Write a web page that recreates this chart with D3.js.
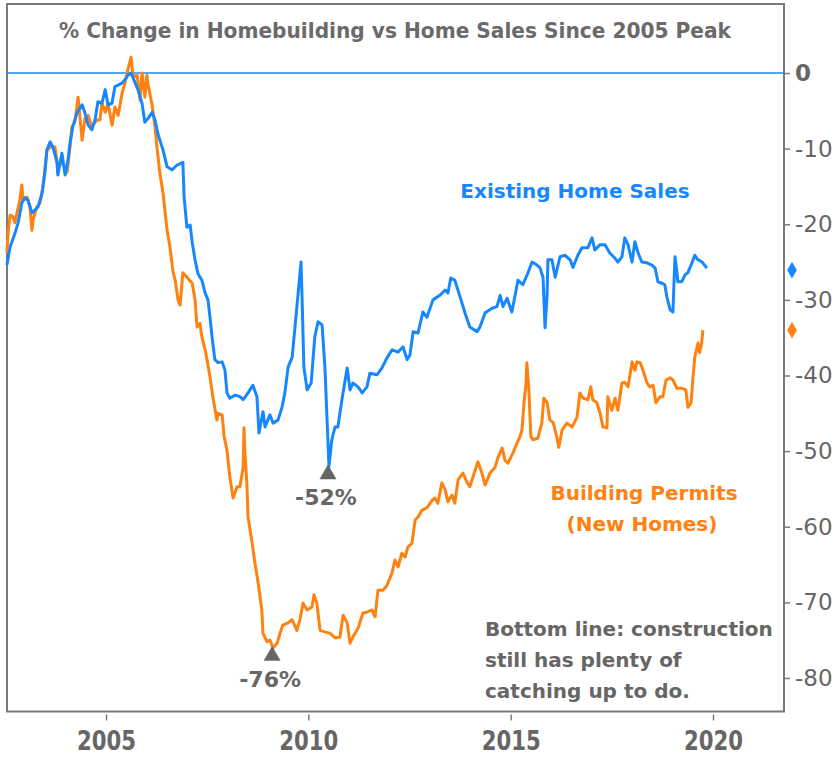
<!DOCTYPE html>
<html><head><meta charset="utf-8">
<script src="https://cdn.jsdelivr.net/npm/d3@7"></script>
<style>body{margin:0;background:#fff}svg{display:block}</style>
</head><body>
<svg id="c" width="840" height="757"></svg>
<script>
const titleText = "% Change in Homebuilding vs Home Sales Since 2005 Peak";
const xTicks = [2005, 2010, 2015, 2020];
const yTicks = [0, -10, -20, -30, -40, -50, -60, -70, -80];

const existingHomeSales = [[2002.55,-25.4],[2002.63,-23.0],[2002.75,-21.2],[2002.83,-19.8],[2002.92,-17.2],[2003.00,-16.5],[2003.07,-16.8],[2003.17,-18.5],[2003.25,-18.1],[2003.32,-17.7],[2003.42,-15.9],[2003.49,-13.2],[2003.54,-10.2],[2003.62,-9.1],[2003.69,-9.8],[2003.79,-11.9],[2003.81,-13.5],[2003.91,-10.6],[2003.99,-13.5],[2004.06,-11.5],[2004.11,-9.3],[2004.18,-7.1],[2004.28,-5.3],[2004.41,-4.2],[2004.48,-5.3],[2004.56,-6.9],[2004.65,-7.5],[2004.73,-6.2],[2004.80,-3.8],[2004.90,-4.0],[2004.98,-2.2],[2005.05,-4.2],[2005.15,-4.0],[2005.22,-1.8],[2005.30,-1.6],[2005.40,-1.3],[2005.47,-0.9],[2005.54,-0.3],[2005.62,0],[2005.72,-1.3],[2005.79,-2.2],[2005.89,-4.0],[2005.96,-6.5],[2006.04,-6.0],[2006.14,-5.2],[2006.21,-6.2],[2006.29,-8.2],[2006.41,-10.2],[2006.51,-12.4],[2006.63,-12.8],[2006.75,-12.2],[2006.90,-11.8],[2006.93,-16.4],[2007.00,-20.4],[2007.08,-20.1],[2007.13,-22.4],[2007.20,-24.7],[2007.27,-26.5],[2007.37,-27.4],[2007.45,-29.1],[2007.52,-30.0],[2007.57,-32.3],[2007.62,-34.9],[2007.69,-37.9],[2007.77,-38.3],[2007.87,-38.2],[2007.94,-39.3],[2007.99,-42.3],[2008.06,-43.0],[2008.19,-42.6],[2008.31,-42.8],[2008.39,-43.2],[2008.51,-42.3],[2008.63,-41.3],[2008.73,-42.8],[2008.78,-47.6],[2008.88,-44.8],[2008.93,-46.8],[2009.05,-45.2],[2009.13,-46.3],[2009.25,-45.9],[2009.35,-44.2],[2009.42,-42.3],[2009.50,-38.9],[2009.60,-37.6],[2009.67,-33.6],[2009.74,-29.6],[2009.82,-25.0],[2009.84,-28.7],[2009.89,-38.9],[2009.97,-41.9],[2010.07,-41.0],[2010.16,-34.9],[2010.24,-32.9],[2010.34,-33.3],[2010.41,-38.9],[2010.46,-45.5],[2010.51,-52.0],[2010.58,-48.5],[2010.66,-46.8],[2010.73,-46.8],[2010.83,-43.2],[2010.91,-40.6],[2010.96,-39.0],[2011.03,-41.9],[2011.10,-41.0],[2011.23,-41.5],[2011.33,-42.3],[2011.45,-41.5],[2011.52,-39.7],[2011.70,-39.9],[2011.82,-39.0],[2011.94,-37.7],[2012.07,-36.6],[2012.22,-36.9],[2012.34,-36.2],[2012.44,-37.9],[2012.51,-37.3],[2012.59,-34.2],[2012.71,-34.4],[2012.83,-31.6],[2012.93,-32.3],[2013.08,-30.0],[2013.25,-29.4],[2013.38,-28.7],[2013.45,-29.1],[2013.52,-27.1],[2013.62,-27.4],[2013.75,-29.6],[2013.87,-31.7],[2013.99,-33.6],[2014.17,-34.2],[2014.24,-33.6],[2014.37,-31.7],[2014.54,-31.1],[2014.66,-30.9],[2014.74,-29.4],[2014.81,-30.9],[2014.91,-29.8],[2015.03,-31.6],[2015.11,-29.4],[2015.18,-27.4],[2015.30,-28.0],[2015.43,-26.4],[2015.53,-25.0],[2015.65,-25.4],[2015.72,-25.7],[2015.80,-27.0],[2015.85,-33.7],[2015.90,-29.4],[2015.92,-24.7],[2016.02,-24.7],[2016.10,-27.0],[2016.22,-24.3],[2016.34,-24.1],[2016.47,-24.7],[2016.54,-25.7],[2016.66,-24.1],[2016.76,-23.1],[2016.91,-23.1],[2017.01,-21.8],[2017.08,-23.4],[2017.21,-22.7],[2017.33,-22.7],[2017.45,-23.8],[2017.58,-24.5],[2017.65,-25.0],[2017.75,-24.3],[2017.82,-21.8],[2017.90,-22.7],[2018.00,-25.0],[2018.07,-22.3],[2018.15,-23.8],[2018.24,-25.0],[2018.37,-25.1],[2018.49,-25.4],[2018.57,-25.8],[2018.64,-27.6],[2018.74,-27.8],[2018.81,-28.0],[2018.86,-29.6],[2018.94,-31.3],[2019.01,-31.6],[2019.06,-24.3],[2019.11,-26.4],[2019.13,-27.6],[2019.23,-27.6],[2019.31,-26.7],[2019.38,-26.4],[2019.48,-25.1],[2019.55,-24.1],[2019.63,-24.7],[2019.73,-25.0],[2019.85,-25.8]];

const buildingPermits = [[2002.55,-23.8],[2002.58,-21.2],[2002.63,-18.8],[2002.70,-19.0],[2002.75,-19.8],[2002.80,-18.5],[2002.87,-16.8],[2002.92,-14.8],[2002.95,-16.8],[2003.05,-16.4],[2003.12,-17.7],[2003.17,-20.8],[2003.20,-19.4],[2003.29,-17.7],[2003.37,-17.2],[2003.44,-15.1],[2003.54,-10.2],[2003.62,-9.8],[2003.74,-9.8],[2003.81,-12.4],[2003.91,-11.8],[2004.04,-13.1],[2004.11,-9.8],[2004.16,-7.1],[2004.23,-6.5],[2004.31,-3.2],[2004.41,-8.9],[2004.48,-6.0],[2004.56,-5.6],[2004.65,-7.1],[2004.78,-6.2],[2004.85,-6.2],[2004.90,-4.0],[2004.98,-5.2],[2005.05,-4.0],[2005.15,-6.9],[2005.22,-4.5],[2005.30,-5.6],[2005.40,-2.6],[2005.47,-1.3],[2005.54,0.4],[2005.62,2.1],[2005.67,-0.5],[2005.77,-0.3],[2005.84,-3.6],[2005.89,0],[2005.96,-3.2],[2006.01,-0.3],[2006.04,-1.6],[2006.14,-4.2],[2006.21,-7.1],[2006.26,-9.8],[2006.33,-13.2],[2006.41,-15.9],[2006.51,-20.8],[2006.58,-23.0],[2006.66,-26.4],[2006.71,-27.4],[2006.78,-30.0],[2006.83,-30.7],[2006.90,-26.4],[2007.00,-27.0],[2007.13,-27.8],[2007.20,-30.0],[2007.25,-33.6],[2007.32,-33.1],[2007.37,-34.9],[2007.45,-36.6],[2007.50,-38.0],[2007.57,-40.2],[2007.64,-42.8],[2007.74,-45.9],[2007.77,-45.0],[2007.87,-45.2],[2007.92,-48.1],[2007.99,-49.9],[2008.06,-53.4],[2008.14,-56.2],[2008.24,-54.7],[2008.31,-54.7],[2008.39,-52.1],[2008.41,-46.9],[2008.43,-49.9],[2008.48,-54.2],[2008.51,-58.7],[2008.61,-62.1],[2008.68,-64.8],[2008.76,-67.4],[2008.85,-71.0],[2008.88,-74.1],[2008.98,-75.2],[2009.05,-75.0],[2009.13,-76.0],[2009.23,-75.4],[2009.30,-74.1],[2009.37,-73.0],[2009.50,-72.7],[2009.60,-72.3],[2009.72,-73.7],[2009.79,-72.3],[2009.87,-70.1],[2009.97,-71.0],[2010.09,-70.6],[2010.14,-69.0],[2010.21,-70.1],[2010.29,-73.7],[2010.41,-73.9],[2010.54,-74.1],[2010.66,-74.7],[2010.78,-74.6],[2010.86,-71.7],[2010.96,-72.7],[2011.03,-75.4],[2011.10,-74.6],[2011.23,-73.4],[2011.35,-71.4],[2011.45,-71.3],[2011.57,-71.0],[2011.65,-71.9],[2011.72,-68.4],[2011.84,-68.4],[2011.94,-67.8],[2012.07,-66.1],[2012.14,-64.4],[2012.22,-65.3],[2012.31,-63.5],[2012.39,-64.0],[2012.46,-62.7],[2012.56,-62.2],[2012.64,-59.1],[2012.71,-58.7],[2012.81,-57.8],[2012.93,-57.5],[2013.06,-56.5],[2013.13,-56.2],[2013.20,-56.9],[2013.30,-54.2],[2013.38,-55.1],[2013.45,-56.7],[2013.55,-55.8],[2013.62,-56.9],[2013.70,-53.8],[2013.82,-52.9],[2013.92,-54.1],[2013.99,-54.7],[2014.07,-53.4],[2014.19,-51.4],[2014.29,-52.9],[2014.37,-54.5],[2014.49,-52.9],[2014.61,-52.2],[2014.69,-50.8],[2014.79,-49.6],[2014.86,-51.2],[2014.93,-51.6],[2015.06,-50.2],[2015.16,-48.9],[2015.23,-48.1],[2015.28,-47.2],[2015.33,-43.6],[2015.38,-41.0],[2015.40,-38.3],[2015.45,-41.9],[2015.50,-48.1],[2015.55,-48.5],[2015.67,-48.3],[2015.77,-46.3],[2015.82,-43.0],[2015.90,-43.6],[2015.97,-45.9],[2016.05,-46.2],[2016.14,-48.1],[2016.19,-49.5],[2016.27,-47.2],[2016.39,-46.3],[2016.52,-46.8],[2016.64,-45.5],[2016.71,-42.3],[2016.79,-43.0],[2016.91,-43.2],[2016.98,-41.5],[2017.03,-43.2],[2017.13,-43.6],[2017.21,-45.0],[2017.28,-46.8],[2017.38,-46.9],[2017.40,-42.8],[2017.50,-44.6],[2017.58,-43.0],[2017.65,-44.6],[2017.75,-41.0],[2017.82,-40.9],[2017.90,-41.5],[2018.00,-38.2],[2018.07,-39.3],[2018.12,-38.2],[2018.20,-38.3],[2018.27,-39.3],[2018.37,-41.0],[2018.44,-41.5],[2018.52,-41.3],[2018.59,-43.6],[2018.69,-42.8],[2018.76,-42.8],[2018.84,-40.6],[2018.94,-40.3],[2019.01,-40.6],[2019.11,-41.7],[2019.23,-41.7],[2019.33,-41.9],[2019.38,-44.2],[2019.46,-43.6],[2019.50,-40.6],[2019.55,-37.6],[2019.63,-35.7],[2019.67,-37.0],[2019.72,-35.7],[2019.75,-34.0]];

const troughs = [
  {year: 2010.51, value: -52, label: "-52%"},
  {year: 2009.13, value: -76, label: "-76%"}
];

const BLUE = "#1787ff", ORANGE = "#ff8210", GRAY = "#666666", FRAME = "#7a7a7a";
const svg = d3.select("#c");

const x = d3.scaleLinear().domain([2005, 2020]).range([106, 713]);
const y = d3.scaleLinear().domain([0, -80]).range([73, 678]);
const L = 7, R = 784, T = 4, B = 711.5;

// frame
svg.append("rect").attr("x", L).attr("y", T).attr("width", R - L).attr("height", B - T)
  .attr("fill", "none").attr("stroke", FRAME).attr("stroke-width", 2);

// title
svg.append("text").attr("x", 395).attr("y", 38).attr("text-anchor", "middle")
  .attr("font-family", "'DejaVu Sans Condensed','DejaVu Sans',sans-serif").attr("font-weight", "bold")
  .attr("font-size", 21).attr("fill", "#6a6a6a")
  .attr("textLength", 672).attr("lengthAdjust", "spacingAndGlyphs").text(titleText);

// zero line
svg.append("line").attr("x1", L).attr("x2", R).attr("y1", y(0)).attr("y2", y(0))
  .attr("stroke", BLUE).attr("stroke-width", 1.6);

// y axis
const yAxis = svg.append("g").attr("transform", `translate(${R},0)`)
  .call(d3.axisRight(y).tickValues(yTicks).tickSize(6).tickPadding(5).tickFormat(d => String(d)));
yAxis.select(".domain").remove();
yAxis.selectAll(".tick line").attr("stroke", FRAME).attr("stroke-width", 1.5);
yAxis.selectAll(".tick text").attr("fill", GRAY)
  .attr("font-family", "'DejaVu Sans',sans-serif").attr("font-size", 23)
  .attr("font-weight", d => d === 0 ? "bold" : "normal");

// x axis
const xAxis = svg.append("g").attr("transform", `translate(0,${B + 3})`)
  .call(d3.axisBottom(x).tickValues(xTicks).tickSize(6).tickPadding(10).tickFormat(d => String(d)));
xAxis.select(".domain").remove();
xAxis.selectAll(".tick line").attr("stroke", FRAME).attr("stroke-width", 1.5);
xAxis.selectAll(".tick text").attr("fill", GRAY)
  .attr("font-family", "'Liberation Sans Narrow','DejaVu Sans Condensed',sans-serif")
  .attr("font-weight", "bold").attr("font-size", 27)
  .attr("textLength", 59).attr("lengthAdjust", "spacingAndGlyphs");

// lines
const line = d3.line().x(d => x(d[0])).y(d => y(d[1]));
svg.append("path").datum(buildingPermits).attr("d", line).attr("fill", "none")
  .attr("stroke", ORANGE).attr("stroke-width", 3).attr("stroke-linejoin", "round");
svg.append("path").datum(existingHomeSales).attr("d", line).attr("fill", "none")
  .attr("stroke", BLUE).attr("stroke-width", 3).attr("stroke-linejoin", "round");

// end markers on axis
const diamond = d3.symbol().type(d3.symbolDiamond).size(80);
const lastBlue = existingHomeSales[existingHomeSales.length - 1];
const lastOrange = buildingPermits[buildingPermits.length - 1];
svg.append("path").attr("d", diamond).attr("fill", BLUE)
  .attr("transform", `translate(792,${y(lastBlue[1]) + 2})`);
svg.append("path").attr("d", diamond).attr("fill", ORANGE)
  .attr("transform", `translate(792,${y(lastOrange[1])})`);

// trough annotations
const tri = d3.symbol().type(d3.symbolTriangle).size(125);
troughs.forEach(t => {
  svg.append("path").attr("d", tri).attr("fill", GRAY)
    .attr("transform", `translate(${x(t.year) - 1},${y(t.value) + 8})`);
  svg.append("text").attr("x", x(t.year) - 3).attr("y", y(t.value) + 39)
    .attr("text-anchor", "middle").attr("fill", GRAY)
    .attr("font-family", "'DejaVu Sans',sans-serif").attr("font-weight", "bold")
    .attr("font-size", 22).text(t.label);
});

// series labels
const lab = (txt, xx, yy, col, anchor) => svg.append("text").attr("x", xx).attr("y", yy)
  .attr("text-anchor", anchor || "middle").attr("fill", col)
  .attr("font-family", "'DejaVu Sans',sans-serif").attr("font-weight", "bold")
  .attr("font-size", 20).text(txt);
lab("Existing Home Sales", 575, 198, BLUE);
lab("Building Permits", 644, 500, ORANGE);
lab("(New Homes)", 642, 531, ORANGE);
lab("Bottom line: construction", 485, 636, GRAY, "start");
lab("still has plenty of", 485, 667, GRAY, "start");
lab("catching up to do.", 485, 698, GRAY, "start");
</script>
</body></html>
